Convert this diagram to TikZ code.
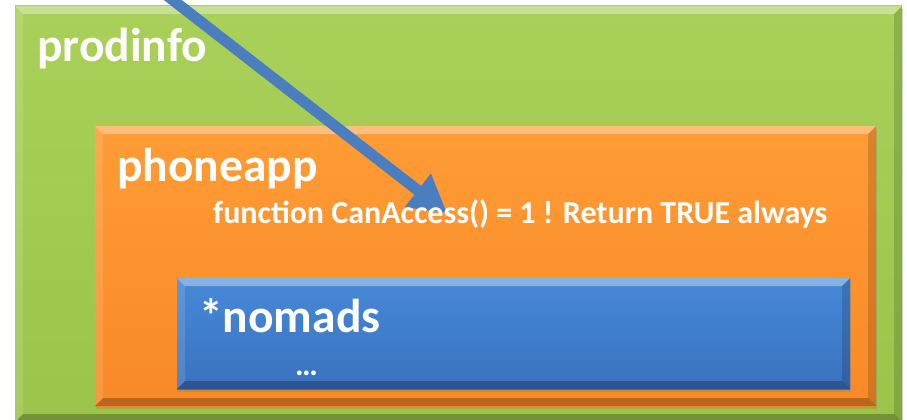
\documentclass[tikz,border=0pt]{standalone}
\usepackage{fontspec}
\setmainfont{Carlito}
\usetikzlibrary{arrows.meta, calc, shadows}
\definecolor{Lime}{HTML}{A9D159}
\definecolor{DLime}{HTML}{9CC44B}
\definecolor{Tang}{HTML}{FF9C35}
\definecolor{DTang}{HTML}{F88A26}
\definecolor{Sky}{HTML}{4689D8}
\definecolor{DSky}{HTML}{3A72BE}
\definecolor{Steel}{HTML}{4A7EBE}
\tikzset{
  bevel/.style={path picture={
    \fill[white, opacity=0.35] (path picture bounding box.north west) -- (path picture bounding box.north east)
      -- ++(-#1,-#1) -- ($(path picture bounding box.north west)+(#1,-#1)$) -- cycle;
    \fill[white, opacity=0.12] (path picture bounding box.north west) -- ++(#1,-#1)
      -- ($(path picture bounding box.south west)+(#1,#1)$) -- (path picture bounding box.south west) -- cycle;
    \fill[black, opacity=0.15] (path picture bounding box.north east) -- ++(-#1,-#1)
      -- ($(path picture bounding box.south east)+(-#1,#1)$) -- (path picture bounding box.south east) -- cycle;
    \fill[black, opacity=0.25] (path picture bounding box.south west) -- ++(#1,#1)
      -- ($(path picture bounding box.south east)+(-#1,#1)$) -- (path picture bounding box.south east) -- cycle;
  }},
}
\begin{document}
\begin{tikzpicture}[x=1pt, y=-1pt,
  box/.style={anchor=north west, inner sep=0pt, outer sep=0pt, bevel=8pt,
              drop shadow={opacity=0.3, shadow xshift=1pt, shadow yshift=-3pt}},
  lbl/.style={anchor=base west, inner sep=0pt, text=white,
              font=\bfseries\fontsize{47.5}{52}\selectfont},
  note/.style={anchor=base west, inner sep=0pt, text=white,
               font=\bfseries\fontsize{32}{36}\selectfont},
  ptr/.style={-{Triangle[length=37pt, width=40pt]}, line width=11pt, Steel},
]
\clip (0,0) rectangle (907,420);
\fill[white] (0,0) rectangle (907,420);
% nested boxes
\node[box, top color=Lime, bottom color=DLime, minimum width=887pt, minimum height=416pt] (prodinfo) at (15,6) {};
\node[box, top color=Tang, bottom color=DTang, minimum width=781pt, minimum height=280pt] (phoneapp) at (95,126) {};
\node[box, top color=Sky, bottom color=DSky, minimum width=673pt, minimum height=111pt] (nomads) at (177,278) {};
% pointer
\coordinate (src) at (147,-20);
\coordinate (tip) at (447,213);
\draw[ptr] (src) -- (tip);
% labels
\node[lbl] (prodinfolbl) at (37,62) {prodinfo};
\node[lbl] (phoneapplbl) at (117,181) {phoneapp};
\node[note] (func) at (213,223) {function CanAccess() = 1 ! Return TRUE always};
\node[lbl] (nomadslbl) at (199,332) {*nomads};
\node[note] (dots) at (295,375) {\dots};
\end{tikzpicture}
\end{document}
